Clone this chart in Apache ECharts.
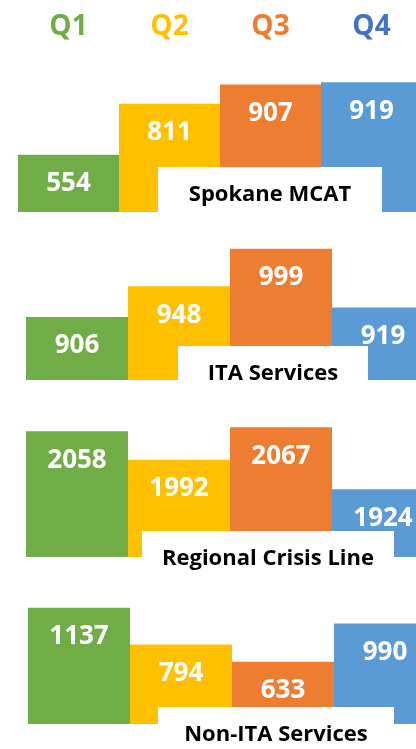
<!DOCTYPE html>
<html>
<head>
<meta charset="utf-8">
<script src="https://cdn.jsdelivr.net/npm/echarts@6/dist/echarts.min.js"></script>
<style>
  html, body { margin: 0; padding: 0; background: #fff; }
  #chart { width: 416px; height: 749px; }
</style>
</head>
<body>
<div id="chart"></div>
<script>
// quarters and panel names
const quarters = ["Q1", "Q2", "Q3", "Q4"];
const panelNames = ["Spokane MCAT", "ITA Services", "Regional Crisis Line", "Non-ITA Services"];

// values per panel
const spokaneMcat = [554, 811, 907, 919];
const itaServices = [906, 948, 999, 919];
const regionalCrisisLine = [2058, 1992, 2067, 1924];
const nonItaServices = [1137, 794, 633, 990];

const panelValues = [spokaneMcat, itaServices, regionalCrisisLine, nonItaServices];

const barColors = ["#70AD47", "#FFC000", "#ED7D31", "#5B9BD5"];
const headerColors = ["#70AD47", "#FFC000", "#ED7D31", "#4472C4"];

// layout of each small panel (grid + axis range + white name box)
const panels = [
  { left: 18, top: 66, width: 404, height: 146, min: 267, max: 1000, box: [158, 167, 224, 50], textY: 195 },
  { left: 26, top: 248, width: 408, height: 132, min: 820, max: 1000, box: [178, 346, 190, 50], textY: 374 },
  { left: 26, top: 413, width: 408, height: 144, min: 1768, max: 2100, box: [142, 531, 252, 50], textY: 559 },
  { left: 28, top: 601, width: 408, height: 123, min: 54, max: 1200, box: [158, 707, 236, 45], textY: 735 },
];

const font = '"Open Sans", "Noto Sans", sans-serif';

const chart = echarts.init(document.getElementById("chart"));

const grid = panels.map((p) => ({
  left: p.left,
  top: p.top,
  width: p.width,
  height: p.height,
  containLabel: false,
  outerBoundsMode: "none",
}));

const xAxis = panels.map((p, i) => ({
  type: "category",
  gridIndex: i,
  data: quarters,
  position: "top",
  axisLine: { show: false },
  axisTick: { show: false },
  axisLabel: {
    show: i === 0,
    margin: 25,
    fontSize: 28,
    fontWeight: "bold",
    fontFamily: font,
    color: (value, index) => headerColors[index],
  },
}));

const yAxis = panels.map((p, i) => ({
  type: "value",
  gridIndex: i,
  min: p.min,
  max: p.max,
  show: false,
  splitLine: { show: false },
}));

const series = panelValues.map((vals, i) => ({
  type: "bar",
  xAxisIndex: i,
  yAxisIndex: i,
  data: vals,
  barCategoryGap: "0%",
  itemStyle: {
    color: (p) => barColors[p.dataIndex],
  },
  label: {
    show: true,
    position: "insideTop",
    distance: 16,
    color: "#fff",
    fontSize: 26,
    fontWeight: "bold",
    fontFamily: font,
  },
  emphasis: { disabled: true },
}));

const graphic = [];
panels.forEach((p, i) => {
  const [bx, by, bw, bh] = p.box;
  graphic.push({
    type: "rect",
    x: bx,
    y: by,
    z: 100,
    shape: { width: bw, height: bh },
    style: { fill: "#fff" },
  });
  graphic.push({
    type: "text",
    x: bx + bw / 2,
    y: p.textY,
    z: 101,
    style: {
      text: panelNames[i],
      fill: "#000",
      font: 'bold 22px ' + font,
      align: "center",
      verticalAlign: "middle",
    },
  });
});

chart.setOption({
  animation: false,
  grid: grid,
  xAxis: xAxis,
  yAxis: yAxis,
  series: series,
  graphic: graphic,
});
</script>
</body>
</html>
